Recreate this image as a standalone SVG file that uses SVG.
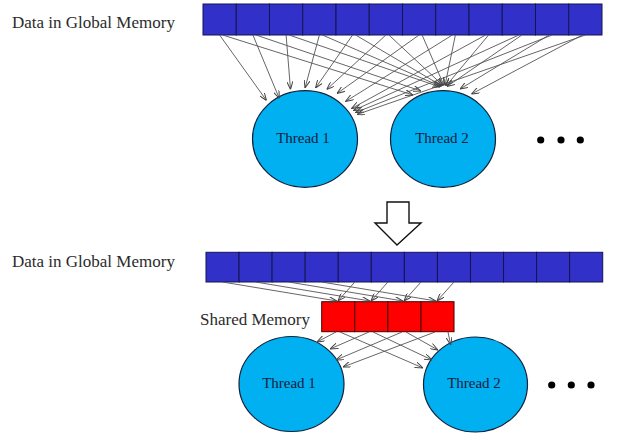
<svg xmlns="http://www.w3.org/2000/svg" width="635" height="442" viewBox="0 0 635 442">
<style>
.lbl{font-family:"Liberation Serif","Times New Roman",serif;font-size:17px;fill:#2b2b2b}
.tt{font-family:"Liberation Serif","Times New Roman",serif;font-size:15px;fill:#16213e;text-anchor:middle}
.gcell{fill:#3131c9;stroke:#141450;stroke-width:1}
.scell{fill:#ff0000;stroke:#4a0000;stroke-width:1}
.thread{fill:#00b0f0;stroke:#10203a;stroke-width:1.2}
.conn line{stroke:#555;stroke-width:0.9;marker-end:url(#a)}
.dot{fill:#000}
</style>
<defs>
<marker id="a" viewBox="0 0 8 6" refX="8" refY="3" markerWidth="8" markerHeight="6" orient="auto" markerUnits="userSpaceOnUse">
<path d="M0,0 L8,3 L0,6" fill="none" stroke="#444" stroke-width="1"/>
</marker>
</defs>
<rect width="635" height="442" fill="#fff"/>

<g id="label-global-top"><text class="lbl" x="12" y="28">Data in Global Memory</text></g>
<g id="global-top">
<rect class="gcell" x="203" y="4" width="33.25" height="31"/>
<rect class="gcell" x="236.25" y="4" width="33.25" height="31"/>
<rect class="gcell" x="269.5" y="4" width="33.25" height="31"/>
<rect class="gcell" x="302.75" y="4" width="33.25" height="31"/>
<rect class="gcell" x="336" y="4" width="33.25" height="31"/>
<rect class="gcell" x="369.25" y="4" width="33.25" height="31"/>
<rect class="gcell" x="402.5" y="4" width="33.25" height="31"/>
<rect class="gcell" x="435.75" y="4" width="33.25" height="31"/>
<rect class="gcell" x="469" y="4" width="33.25" height="31"/>
<rect class="gcell" x="502.25" y="4" width="33.25" height="31"/>
<rect class="gcell" x="535.5" y="4" width="33.25" height="31"/>
<rect class="gcell" x="568.75" y="4" width="33.25" height="31"/>
</g>
<g id="thread1-top"><ellipse class="thread" cx="305" cy="139" rx="52.5" ry="48.3"/><text class="tt" x="303" y="143">Thread 1</text></g>
<g id="thread2-top"><ellipse class="thread" cx="443" cy="139" rx="52.5" ry="48.3"/><text class="tt" x="442" y="143">Thread 2</text></g>
<g id="dots-top"><circle class="dot" cx="540.7" cy="140" r="3.6"/><circle class="dot" cx="561" cy="140" r="3.6"/><circle class="dot" cx="580.3" cy="140" r="3.6"/></g>

<g id="transition-arrow"><polygon points="387,202 409,202 409,223 421,223 397,245 375,223 387,223" fill="#fff" stroke="#111" stroke-width="1.4"/></g>

<g id="label-global-bottom"><text class="lbl" x="12" y="267">Data in Global Memory</text></g>
<g id="global-bottom">
<rect class="gcell" x="206" y="252.3" width="33.06" height="29.7"/>
<rect class="gcell" x="239.06" y="252.3" width="33.06" height="29.7"/>
<rect class="gcell" x="272.12" y="252.3" width="33.06" height="29.7"/>
<rect class="gcell" x="305.18" y="252.3" width="33.06" height="29.7"/>
<rect class="gcell" x="338.24" y="252.3" width="33.06" height="29.7"/>
<rect class="gcell" x="371.3" y="252.3" width="33.06" height="29.7"/>
<rect class="gcell" x="404.36" y="252.3" width="33.06" height="29.7"/>
<rect class="gcell" x="437.42" y="252.3" width="33.06" height="29.7"/>
<rect class="gcell" x="470.48" y="252.3" width="33.06" height="29.7"/>
<rect class="gcell" x="503.54" y="252.3" width="33.06" height="29.7"/>
<rect class="gcell" x="536.6" y="252.3" width="33.06" height="29.7"/>
<rect class="gcell" x="569.66" y="252.3" width="33.06" height="29.7"/>
</g>
<g id="label-shared"><text class="lbl" x="200" y="325">Shared Memory</text></g>
<g id="shared-memory">
<rect class="scell" x="321.7" y="301.7" width="33.08" height="30"/>
<rect class="scell" x="354.78" y="301.7" width="33.08" height="30"/>
<rect class="scell" x="387.86" y="301.7" width="33.08" height="30"/>
<rect class="scell" x="420.94" y="301.7" width="33.08" height="30"/>
</g>
<g id="thread1-bottom"><ellipse class="thread" cx="291.5" cy="384" rx="52.5" ry="47.5"/><text class="tt" x="289" y="388">Thread 1</text></g>
<g id="thread2-bottom"><ellipse class="thread" cx="475.5" cy="384.5" rx="52" ry="47.5"/><text class="tt" x="474" y="388">Thread 2</text></g>
<g id="dots-bottom"><circle class="dot" cx="551.7" cy="385" r="3.6"/><circle class="dot" cx="571.3" cy="385" r="3.6"/><circle class="dot" cx="591" cy="385" r="3.6"/></g>

<g id="connectors" class="conn">
<!-- top: global cells to thread 1 -->
<line x1="219.6" y1="35" x2="266.5" y2="100.5"/>
<line x1="252.9" y1="35" x2="279.3" y2="98.5"/>
<line x1="286.1" y1="35" x2="290.5" y2="89.5"/>
<line x1="319.4" y1="35" x2="305" y2="88"/>
<line x1="352.6" y1="35" x2="315.5" y2="88"/>
<line x1="385.9" y1="35" x2="326.7" y2="89.5"/>
<line x1="419.1" y1="35" x2="337" y2="93.5"/>
<line x1="452.4" y1="35" x2="345.5" y2="101.5"/>
<line x1="485.6" y1="35" x2="351.5" y2="108.5"/>
<line x1="518.9" y1="35" x2="353.5" y2="110.5"/>
<line x1="552.1" y1="35" x2="355.5" y2="112.5"/>
<line x1="585.4" y1="35" x2="357" y2="114.5"/>
<!-- top: global cells to thread 2 -->
<line x1="222.6" y1="35" x2="413" y2="95"/>
<line x1="255.9" y1="35" x2="421" y2="91"/>
<line x1="289.1" y1="35" x2="440" y2="87"/>
<line x1="322.4" y1="35" x2="441" y2="86.5"/>
<line x1="355.6" y1="35" x2="442" y2="86"/>
<line x1="388.9" y1="35" x2="443" y2="85.5"/>
<line x1="422.1" y1="35" x2="444" y2="85.5"/>
<line x1="455.4" y1="35" x2="445" y2="85.5"/>
<line x1="488.6" y1="35" x2="446" y2="86"/>
<line x1="521.9" y1="35" x2="447" y2="86.5"/>
<line x1="549.1" y1="35" x2="460" y2="89"/>
<line x1="582.4" y1="35" x2="471.5" y2="94"/>
<!-- bottom: global to shared -->
<line x1="222.5" y1="282" x2="337" y2="301"/>
<line x1="255.6" y1="282" x2="370" y2="301"/>
<line x1="288.7" y1="282" x2="403" y2="301"/>
<line x1="321.7" y1="282" x2="436" y2="301"/>
<line x1="354.8" y1="282" x2="338" y2="301"/>
<line x1="387.9" y1="282" x2="371" y2="301"/>
<line x1="421" y1="282" x2="404" y2="301"/>
<line x1="454" y1="282" x2="437" y2="301"/>
<!-- bottom: shared to threads -->
<line x1="336" y1="332" x2="317" y2="342"/>
<line x1="369" y1="332" x2="330" y2="349"/>
<line x1="402" y1="332" x2="336" y2="360"/>
<line x1="435" y1="332" x2="343" y2="367"/>
<line x1="340" y1="332" x2="423" y2="368"/>
<line x1="373" y1="332" x2="432" y2="360"/>
<line x1="406" y1="332" x2="438" y2="350"/>
<line x1="448" y1="332" x2="450.7" y2="345"/>
</g>
</svg>
